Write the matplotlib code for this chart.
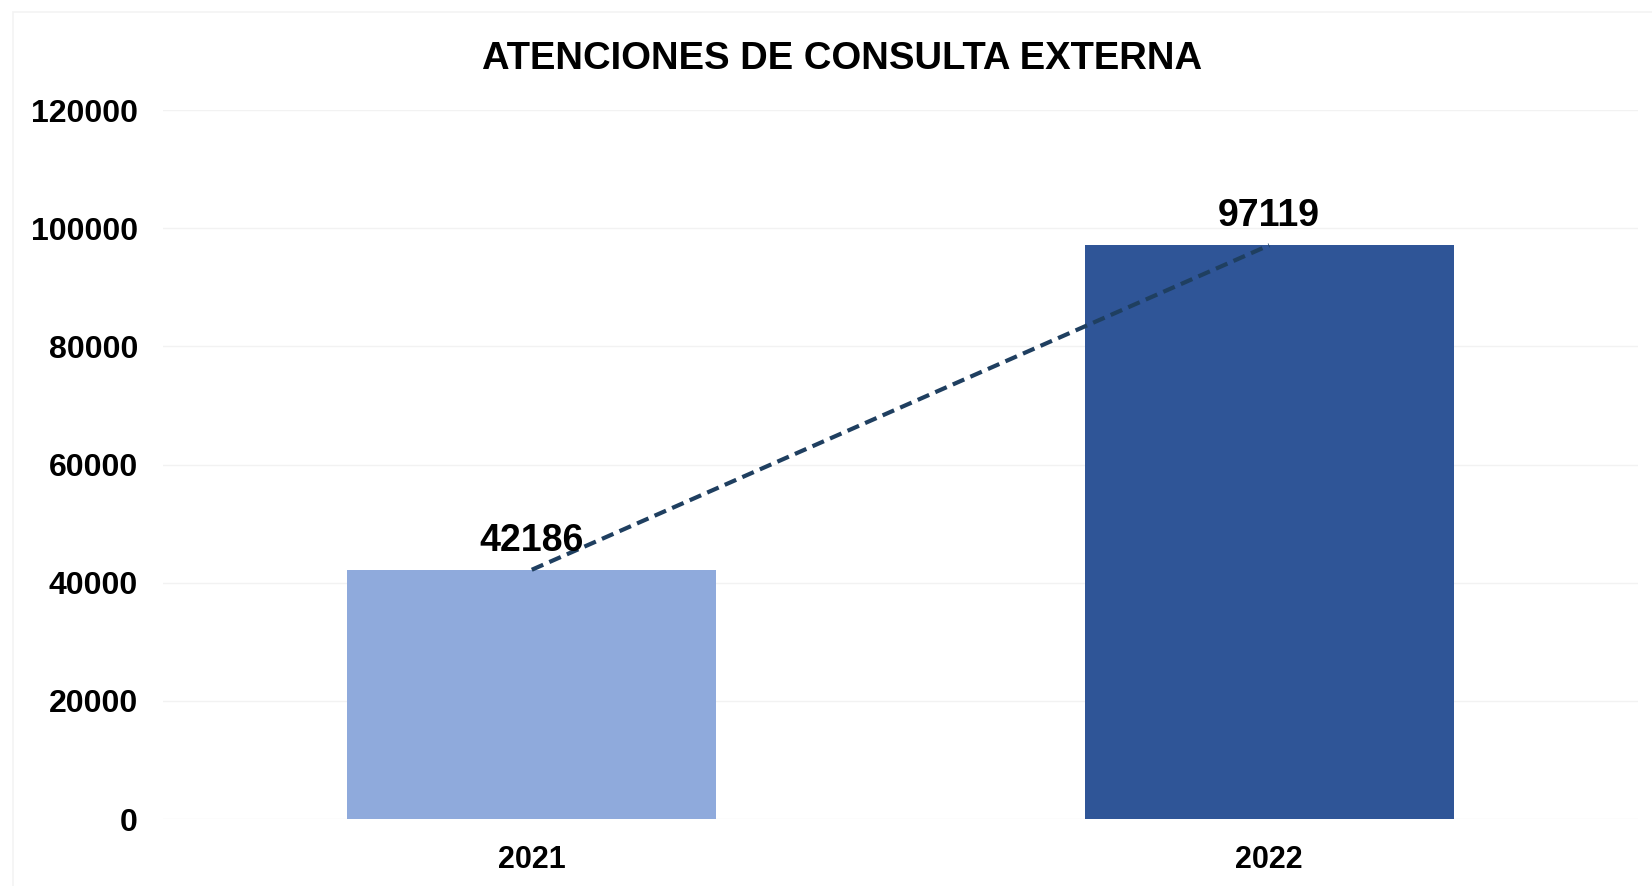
import matplotlib
matplotlib.use('Agg')
import matplotlib.pyplot as plt
import matplotlib.patches as pc

# Data
years = ['2021', '2022']
atenciones = [42186, 97119]
barColors = ['#8FAADC', '#2F5597']
yTicks = [0, 20000, 40000, 60000, 80000, 100000, 120000]

plt.rcParams['font.family'] = ['Liberation Sans', 'DejaVu Sans']
plt.rcParams['font.weight'] = 'bold'

fig = plt.figure(figsize=(16.52, 8.86), dpi=100)
ax = fig.add_axes([0.0987, 0.0756, 0.8928, 0.8002])

# faint outer frame of the chart area (only top and left edges show)
fig.patches.append(pc.Rectangle((0.008, -0.05), 1.05, 1.037, transform=fig.transFigure,
                                fill=False, edgecolor='#F3F3F3', linewidth=1.2))

pos = list(range(len(years)))
ax.bar(pos, atenciones, width=0.5, color=barColors, zorder=2)

# trend line between bar tops
ax.plot(pos, atenciones, linestyle=(0, (3, 1.6)), color='#1F3F60', linewidth=3, zorder=3)

for i, v in enumerate(atenciones):
    ax.annotate(str(v), (pos[i], v), xytext=(0, 8), textcoords='offset points',
                ha='center', va='bottom', fontsize=27, fontweight='bold', zorder=4)

ax.set_xlim(-0.5, 1.5)
ax.set_ylim(0, 120000)
ax.set_yticks(yTicks)
ax.set_xticks(pos)
ax.set_xticklabels(years)
ax.tick_params(axis='both', length=0, labelsize=22)
ax.tick_params(axis='y', labelsize=23, pad=18)
ax.tick_params(axis='x', pad=19)
for lab in ax.get_xticklabels() + ax.get_yticklabels():
    lab.set_fontweight('bold')

ax.grid(axis='y', color='#F2F2F2', linewidth=1, zorder=0)
ax.set_axisbelow(True)
for s in ax.spines.values():
    s.set_visible(False)

fig.text(0.5096, 0.933, 'ATENCIONES DE CONSULTA EXTERNA', ha='center', va='center',
         fontsize=27.5, fontweight='bold')

fig.savefig('out.png', dpi=100)
